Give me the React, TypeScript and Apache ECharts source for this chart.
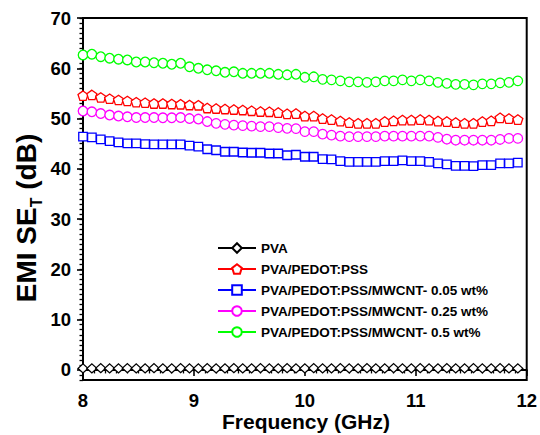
import React, { useEffect, useRef } from 'react';
import * as echarts from 'echarts';

const FONT = 'Arial, "Liberation Sans", Helvetica, sans-serif';

const frequency = [
  8.0, 8.08, 8.16, 8.24, 8.32, 8.4, 8.48, 8.56, 8.64, 8.72,
  8.8, 8.88, 8.96, 9.04, 9.12, 9.2, 9.28, 9.36, 9.44, 9.52,
  9.6, 9.68, 9.76, 9.84, 9.92, 10.0, 10.08, 10.16, 10.24, 10.32,
  10.4, 10.48, 10.56, 10.64, 10.72, 10.8, 10.88, 10.96, 11.04, 11.12,
  11.2, 11.28, 11.36, 11.44, 11.52, 11.6, 11.68, 11.76, 11.84, 11.92,
];

const pva = [
  0.3, 0.3, 0.35, 0.3, 0.3, 0.35, 0.3, 0.3, 0.35, 0.3,
  0.3, 0.35, 0.3, 0.3, 0.35, 0.3, 0.3, 0.35, 0.3, 0.3,
  0.35, 0.3, 0.3, 0.35, 0.3, 0.3, 0.35, 0.3, 0.3, 0.35,
  0.3, 0.3, 0.35, 0.3, 0.3, 0.35, 0.3, 0.3, 0.35, 0.3,
  0.3, 0.35, 0.3, 0.3, 0.35, 0.3, 0.3, 0.35, 0.3, 0.3,
];

const pedotPss = [
  54.55, 54.7, 54.2, 53.95, 53.7, 53.5, 53.25, 53.15, 53.0, 53.0,
  52.9, 52.85, 52.7, 52.65, 52.1, 52.0, 51.9, 51.8, 51.7, 51.55,
  51.4, 51.35, 51.2, 50.95, 51.0, 50.5, 50.5, 50.0, 49.8, 49.5,
  49.2, 49.05, 49.05, 49.05, 49.4, 49.55, 49.7, 49.7, 49.8, 49.7,
  49.5, 49.4, 49.2, 49.05, 49.05, 49.4, 49.55, 50.15, 50.0, 49.8,
];

const mwcnt005 = [
  46.4, 46.25, 45.85, 45.5, 45.25, 45.05, 45.05, 44.9, 44.85, 44.85,
  44.85, 44.85, 44.6, 44.4, 43.9, 43.7, 43.4, 43.4, 43.25, 43.2,
  43.2, 43.05, 43.05, 42.7, 42.8, 42.4, 42.4, 41.95, 41.9, 41.55,
  41.4, 41.4, 41.4, 41.4, 41.55, 41.55, 41.7, 41.55, 41.55, 41.4,
  41.1, 40.9, 40.6, 40.6, 40.55, 40.75, 40.75, 41.1, 41.1, 41.25,
];

const mwcnt025 = [
  51.5, 51.35, 51.0, 50.7, 50.5, 50.35, 50.2, 50.2, 50.2, 50.15,
  50.15, 50.2, 50.0, 49.9, 49.4, 49.05, 48.85, 48.7, 48.6, 48.5,
  48.4, 48.4, 48.2, 48.05, 48.0, 47.4, 47.4, 46.9, 46.7, 46.5,
  46.4, 46.4, 46.4, 46.4, 46.5, 46.5, 46.5, 46.5, 46.5, 46.5,
  46.25, 45.9, 45.7, 45.7, 45.7, 45.7, 45.7, 45.85, 46.05, 46.05,
];

const mwcnt05 = [
  62.65, 62.8, 62.3, 62.0, 61.8, 61.65, 61.25, 61.25, 61.1, 61.0,
  60.8, 61.0, 60.3, 60.0, 59.7, 59.5, 59.2, 59.3, 59.0, 59.0,
  59.0, 59.0, 58.8, 58.7, 58.8, 58.2, 58.3, 57.8, 57.7, 57.5,
  57.3, 57.3, 57.2, 57.3, 57.5, 57.5, 57.7, 57.5, 57.7, 57.5,
  57.2, 57.0, 56.8, 56.8, 56.7, 56.9, 56.9, 57.1, 57.2, 57.5,
];

const seriesNames = [
  'PVA',
  'PVA/PEDOT:PSS',
  'PVA/PEDOT:PSS/MWCNT- 0.05 wt%',
  'PVA/PEDOT:PSS/MWCNT- 0.25 wt%',
  'PVA/PEDOT:PSS/MWCNT- 0.5 wt%',
];
const seriesValues = [pva, pedotPss, mwcnt005, mwcnt025, mwcnt05];
const seriesColors = ['#000000', '#ff0000', '#0000ff', '#ff00ff', '#00ff00'];
const seriesSymbols = [
  'diamond',
  'path://M0,-10L9.51,-3.09L5.88,8.09L-5.88,8.09L-9.51,-3.09Z',
  'rect',
  'circle',
  'circle',
];
const seriesSymbolSizes: any[] = [[10, 9], 10, 8.5, 9.5, 9.5];

const yTickValues = [0, 10, 20, 30, 40, 50, 60, 70];
const xTickValues = [8, 9, 10, 11, 12];

export default function App() {
  const ref = useRef<HTMLDivElement>(null);

  useEffect(() => {
    const chart = echarts.init(ref.current!, null, { renderer: 'svg' });

    const series = seriesNames.map((name, k) => ({
      name,
      type: 'line',
      data: frequency.map((f, i) => [f, seriesValues[k][i]]),
      symbol: seriesSymbols[k],
      symbolSize: seriesSymbolSizes[k],
      symbolKeepAspect: true,
      lineStyle: { color: seriesColors[k], width: 1.2 },
      itemStyle: { color: '#ffffff', borderColor: seriesColors[k], borderWidth: 1.3 },
      emphasis: { disabled: true },
      yAxisIndex: 0,
      z: 2 + k,
    }));

    const labelStyle = {
      fontFamily: FONT,
      fontWeight: 'bold',
      fontSize: 18.5,
      color: '#000',
    };

    chart.setOption({
      animation: false,
      backgroundColor: '#fff',
      grid: {
        left: 83,
        right: 10,
        top: 18,
        bottom: 55,
        show: true,
        borderColor: '#000',
        borderWidth: 2,
        backgroundColor: 'transparent',
      },
      legend: {
        orient: 'vertical',
        left: 212,
        top: 236,
        itemWidth: 38,
        itemHeight: 12,
        itemGap: 7,
        data: seriesNames,
        textStyle: {
          fontFamily: FONT,
          fontWeight: 'bold',
          fontSize: 13.5,
          color: '#000',
          lineHeight: 14,
        },
      },
      xAxis: {
        type: 'value',
        min: 8,
        max: 12,
        interval: 1,
        axisLine: { show: true, lineStyle: { color: '#000', width: 2 } },
        axisTick: { show: true, inside: false, length: 6, lineStyle: { color: '#000', width: 1.6 } },
        minorTick: { show: true, splitNumber: 10, length: 3.5, lineStyle: { color: '#000', width: 1.3 } },
        splitLine: { show: false },
        axisLabel: { ...labelStyle, margin: 11, customValues: xTickValues },
      },
      yAxis: [
        {
          type: 'value',
          min: -2,
          max: 70,
          interval: 1,
          axisLine: { show: true, lineStyle: { color: '#000', width: 2 } },
          axisTick: { show: true, inside: false, length: 3.5, lineStyle: { color: '#000', width: 1.3 } },
          splitLine: { show: false },
          axisLabel: { show: false },
        },
        {
          type: 'value',
          min: -2,
          max: 70,
          interval: 1,
          position: 'left',
          axisLine: { show: false },
          axisTick: {
            show: true,
            inside: false,
            length: 6,
            customValues: yTickValues,
            lineStyle: { color: '#000', width: 1.6 },
          },
          splitLine: { show: false },
          axisLabel: { ...labelStyle, margin: 12, customValues: yTickValues },
        },
      ],
      graphic: [
        {
          type: 'text',
          x: 27,
          y: 218,
          rotation: Math.PI / 2,
          silent: true,
          style: {
            text: '{a|EMI SE}{b|T}{a| (dB)}',
            align: 'center',
            verticalAlign: 'middle',
            rich: {
              a: {
                fontFamily: FONT,
                fontWeight: 'bold',
                fontSize: 28,
                lineHeight: 30,
                fill: '#000',
                verticalAlign: 'top',
              },
              b: {
                fontFamily: FONT,
                fontWeight: 'bold',
                fontSize: 16,
                lineHeight: 16,
                padding: [16, 0, 0, 0],
                fill: '#000',
                verticalAlign: 'top',
              },
            },
          },
        },
        {
          type: 'text',
          x: 306,
          y: 421,
          silent: true,
          style: {
            text: 'Frequency (GHz)',
            align: 'center',
            verticalAlign: 'middle',
            fontFamily: FONT,
            fontWeight: 'bold',
            fontSize: 21,
            fill: '#000',
          },
        },
      ],
      series,
    });

    return () => chart.dispose();
  }, []);

  return (
    <div
      ref={ref}
      style={{ position: 'absolute', left: 0, top: 0, width: 540, height: 435 }}
    />
  );
}
